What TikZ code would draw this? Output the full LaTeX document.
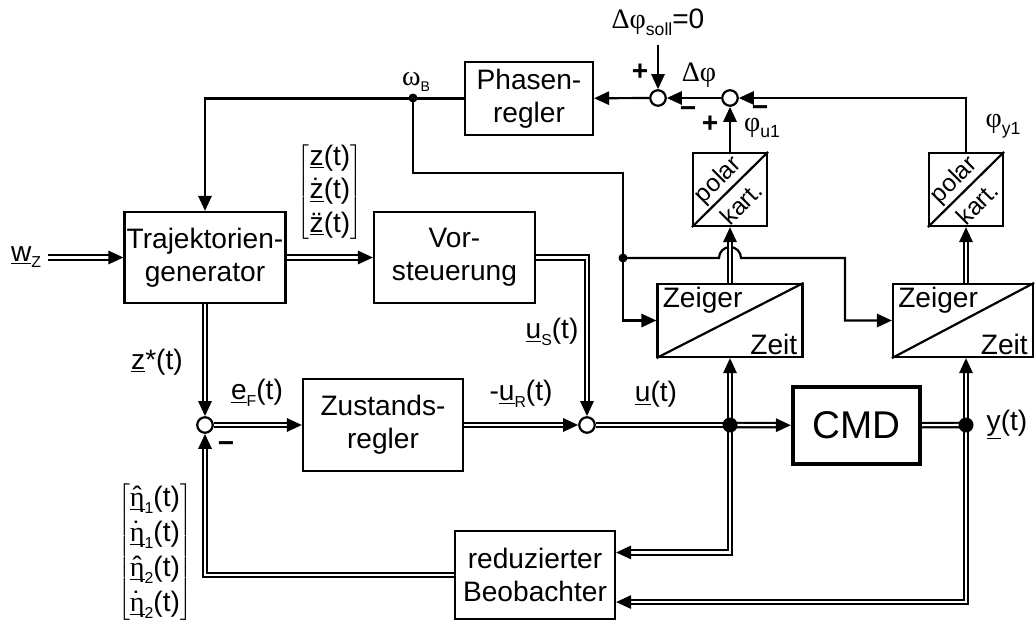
\documentclass[tikz,border=0pt]{standalone}
\usepackage{fontspec}
\setmainfont{Liberation Sans}
\newfontfamily\grk{Liberation Serif}
\usepackage{tikz}
\usetikzlibrary{arrows.meta,positioning,calc}

\newcommand{\lowidx}[2][9]{\raisebox{-0.45ex}{\fontsize{#1}{#1}\selectfont #2}}
\newcommand{\vect}[1]{\underline{#1}}
\newcommand{\accmark}[2]{\ooalign{#2\cr\hidewidth#1\hidewidth\cr}}

\begin{document}
\begin{tikzpicture}[
    x=0.02cm, y=-0.02cm,
    font=\fontsize{16}{19}\selectfont,
    line width=1.25pt,
    box/.style={draw, line width=1.25pt, inner sep=0pt, align=center, minimum width=3.22cm, minimum height=1.82cm},
    splitbox/.style={draw, line width=1.25pt, inner sep=0pt, minimum height=1.46cm},
    sumnode/.style={circle, draw, line width=1.25pt, fill=white, inner sep=0pt, minimum size=0.31cm},
    arrow/.style={-{Triangle[length=8.5pt,width=7.5pt]}, line width=1.25pt},
    dline/.style={double, double distance=1.2pt, line width=1.25pt},
    darrow/.style={dline, -{Triangle[length=8.5pt,width=7.5pt]}}
]
\useasboundingbox (0,0) rectangle (1035,621);

% blocks
\node[box, minimum width=2.56cm, minimum height=1.46cm] (phase) at (529,98.5) {Phasen-\\regler};
\node[box] (traj) at (205,257.5) {Trajektorien-\\generator};
\node[box] (vor) at (454.5,257.5) {Vor-\\steuerung};
\node[box, minimum width=3.2cm, minimum height=1.84cm] (zust) at (383,425) {Zustands-\\regler};
\node[box, line width=2.4pt, minimum width=2.54cm, minimum height=1.54cm, font=\fontsize{22}{26}\selectfont] (cmd) at (856.5,425.5) {CMD};
\node[box, minimum width=3.2cm, minimum height=1.76cm] (beob) at (535,575) {reduzierter\\Beobachter};

% Zeiger/Zeit and polar/kart.
\node[splitbox, minimum width=2.9cm] (zg1) at (730,320.5) {};
\node[splitbox, minimum width=2.8cm] (zg2) at (963,320.5) {};
\node[splitbox, minimum width=1.48cm] (pk1) at (730,189.5) {};
\node[splitbox, minimum width=1.48cm] (pk2) at (966,189.5) {};
\foreach \n in {zg1,zg2,pk1,pk2}
  \draw (\n.south west) -- (\n.north east);
\foreach \n in {zg1,zg2} {
  \node[anchor=north west, inner xsep=3pt, inner ysep=1.5pt] at (\n.north west) {Zeiger};
  \node[anchor=south east, inner xsep=3pt, inner ysep=1.5pt] at (\n.south east) {Zeit};
}
\foreach \n in {pk1,pk2} {
  \node[rotate=45, inner sep=0pt, font=\fontsize{14}{16}\selectfont] at ($(\n.center)+(-11.5,-9)$) {polar};
  \node[rotate=45, inner sep=0pt, font=\fontsize{14}{16}\selectfont] at ($(\n.center)+(11,14)$) {kart.};
}

% summing points
\node[sumnode] (s1) at (658,98) {};
\node[sumnode] (s2) at (730,98) {};
\node[sumnode] (s0) at (205,425) {};
\node[sumnode] (s3) at (587,425) {};

% branch points
\coordinate (wb) at (413,98);
\coordinate (jw) at (623,258);
\coordinate (ju) at (730,425);
\coordinate (jy) at (966,425);

% phase loop
\coordinate (soll) at (658,45);
\draw[arrow] (soll) -- (s1);
\draw[arrow] (s2) -- (s1);
\draw[arrow] (s1) -- (phase);
\draw[arrow] (pk1) -- (s2);
\draw[arrow] (pk2.north) |- (s2);
\draw[arrow] (phase) -| (traj);
\coordinate (wbc) at (623,173);
\draw[arrow] (wb) |- (wbc) |- (zg1);
\coordinate (jwc) at (845,258);
\draw[arrow] (jw) -- (719,258) arc[start angle=180, end angle=0, radius=0.22cm] -- (jwc) |- (zg2);

% signal paths
\coordinate (wz) at (48,257.5);
\draw[darrow] (wz) -- (wz -| traj.west);
\draw[darrow] (traj) -- (vor);
\draw[darrow] (vor) -| (s3);
\draw[darrow] (traj) -- (s0);
\draw[darrow] (s0) -- (zust);
\draw[darrow] (zust) -- (s3);
\draw[dline] (s3) -- (ju);
\draw[darrow] (ju) -- (cmd);
\draw[darrow] (ju) -- (zg1);
\draw[darrow] (zg1) -- (pk1);
\draw[dline] (cmd) -- (jy);
\draw[darrow] (jy) -- (jy |- zg2.south);
\draw[darrow] (pk2.south |- zg2.north) -- (pk2);
\draw[darrow] (ju) |- ($(beob.north east)!.25!(beob.south east)$);
\draw[darrow] (jy) |- ($(beob.north east)!.8!(beob.south east)$);
\draw[darrow] (beob) -| (s0);

% dots
\fill (wb) circle[radius=0.09cm];
\fill (jw) circle[radius=0.09cm];
\fill (ju) circle[radius=0.15cm];
\fill (jy) circle[radius=0.15cm];

% labels
\node (lwz) at (26,257) {\vect{w}\lowidx{Z}};
\node (lzv) at (330,192) {$\left[\begin{tabular}{@{}l@{}}\vect{z}(t)\\ \vect{\accmark{˙}{z}}(t)\\ \vect{\accmark{¨}{z}}(t)\end{tabular}\right]$};
\node (lzs) at (157,362) {\vect{z}*(t)};
\node (lef) at (257,393) {\vect{e}\lowidx{F}(t)};
\node (lm0) at (226,447) {\textbf{−}};
\node (lur) at (521,394) {-\vect{u}\lowidx{R}(t)};
\node (lus) at (552,332) {\vect{u}\lowidx{S}(t)};
\node (lu) at (656,394) {\vect{u}(t)};
\node (ly) at (1007,425) {\vect{y}(t)};
\node (leta) at (155,552) {\renewcommand{\arraystretch}{1.05}$\left[\begin{tabular}{@{}l@{}}\vect{\accmark{ˆ}{\grk η}}\lowidx{1}(t)\\ \vect{\accmark{˙}{\grk η}}\lowidx{1}(t)\\ \vect{\accmark{ˆ}{\grk η}}\lowidx{2}(t)\\ \vect{\accmark{˙}{\grk η}}\lowidx{2}(t)\end{tabular}\right]$};
\node (lwb) at (416,82) {{\grk ω}\lowidx[8]{B}};
\node (lsoll) at (658,22) {{\grk Δφ}\lowidx[10]{soll}=0};
\node (lp1) at (640,72) {\textbf{+}};
\node (ldp) at (699,75) {{\grk Δφ}};
\node (lm1) at (688,112) {\textbf{−}};
\node (lp2) at (710,124) {\textbf{+}};
\node (lm2) at (760,111) {\textbf{−}};
\node (lpu) at (762,128) {{\grk φ}\lowidx[10]{u1}};
\node (lpy) at (1003,126) {{\grk φ}\lowidx[10]{y1}};

\end{tikzpicture}
\end{document}
